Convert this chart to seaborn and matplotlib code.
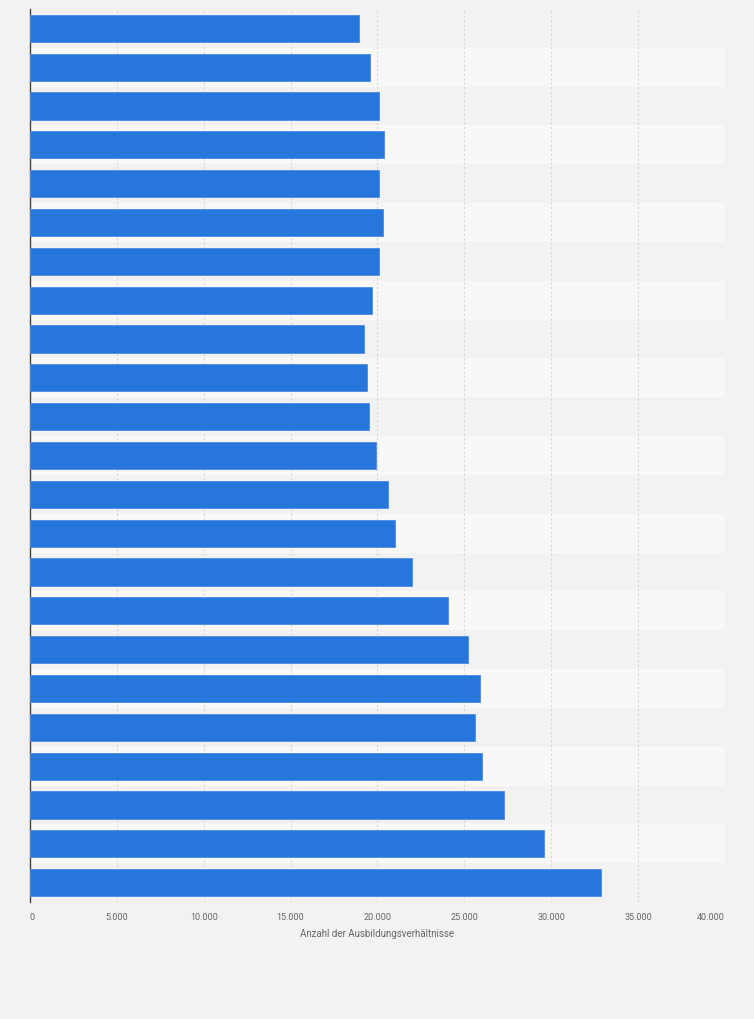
import matplotlib
matplotlib.use("Agg")
import matplotlib.pyplot as plt
import pandas as pd
import seaborn as sns

# rows top to bottom (the reference shows no category labels)
rows = ["R01", "R02", "R03", "R04", "R05", "R06", "R07", "R08", "R09", "R10",
        "R11", "R12", "R13", "R14", "R15", "R16", "R17", "R18", "R19", "R20",
        "R21", "R22", "R23"]
anzahl = [18960, 19540, 20110, 20400, 20060, 20290, 20110, 19680, 19250, 19370,
          19500, 19890, 20630, 21030, 22010, 24040, 25190, 25920, 25600, 26000,
          27280, 29560, 32840]
x_ticks = [0, 5000, 10000, 15000, 20000, 25000, 30000, 35000, 40000]
x_tick_labels = ["0", "5.000", "10.000", "15.000", "20.000", "25.000",
                 "30.000", "35.000", "40.000"]
x_label = "Anzahl der Ausbildungsverhältnisse"

df = pd.DataFrame({"row": rows, "anzahl": anzahl})

sns.set_theme(style="white")
plt.rcParams["font.family"] = ["Roboto", "DejaVu Sans"]

bg = "#f2f2f2"
fig = plt.figure(figsize=(7.54, 10.2), dpi=100, facecolor=bg)
ax = fig.add_axes([30 / 754, 1 - 903 / 1020, 695 / 754, 893 / 1020])
ax.set_facecolor(bg)

# alternating row bands
for i in range(len(rows)):
    if i % 2 == 1:
        ax.axhspan(i - 0.5, i + 0.5, color="#f8f8f8", zorder=0, lw=0)

sns.barplot(data=df, x="anzahl", y="row", orient="h", color="#2776db",
            width=0.7, edgecolor="#4a8be2", linewidth=0.6, saturation=1,
            ax=ax, zorder=3)

ax.set_xlim(0, 40000)
ax.set_ylim(len(rows) - 0.5, -0.5)
ax.set_xticks(x_ticks)
ax.set_xticklabels(x_tick_labels, fontsize=6.5, color="#666666")
labels = ax.get_xticklabels()
labels[0].set_ha("left")
labels[-1].set_ha("right")
ax.set_yticks([])
ax.set_ylabel("")
ax.set_xlabel(x_label, fontsize=7, color="#666666", labelpad=5)
ax.tick_params(axis="x", length=0, pad=7)

for x in x_ticks[1:]:
    ax.axvline(x, color="#d6d6d6", lw=0.8, ls=(0, (2, 2)), zorder=1)

for side in ["top", "right", "bottom"]:
    ax.spines[side].set_visible(False)
ax.spines["left"].set_color("#444444")
ax.spines["left"].set_linewidth(1.0)

fig.savefig("out.png", dpi=100, facecolor=bg)
